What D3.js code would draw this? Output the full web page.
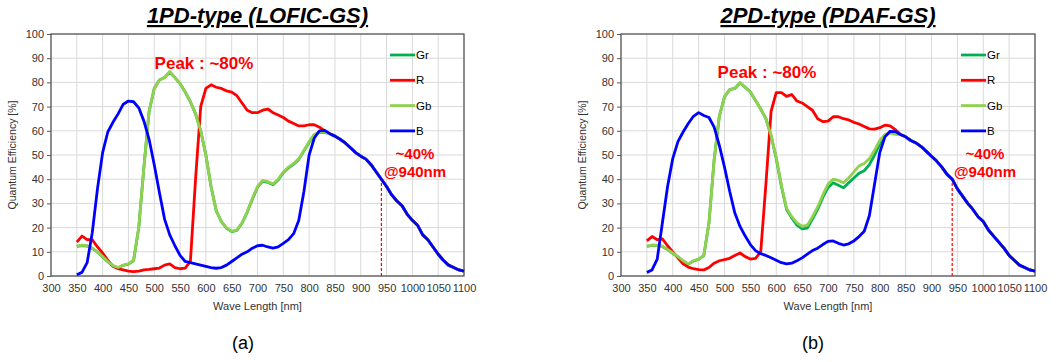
<!DOCTYPE html>
<html>
<head>
<meta charset="utf-8">
<script src="https://cdn.jsdelivr.net/npm/d3@7"></script>
<style>
  body { margin: 0; background: #fff; }
  svg { display: block; font-family: Arial, 'Liberation Sans', sans-serif; }
</style>
</head>
<body>
<svg id="chart" width="1057" height="362"></svg>
<script>
// wavelengths 350..1100 step 10
const wavelengths = d3.range(350, 1101, 10)
const xTicks = d3.range(300, 1101, 50)
const yTicks = d3.range(0, 101, 10)
const seriesNames = ['Gr', 'R', 'Gb', 'B']
const seriesColors = ['#00b050', '#ff0000', '#92d050', '#0000ff']

// ---- (a) 1PD-type ----
// shared tail 840..1100 where curves merge
const tailA = [58.8, 57.8, 56.5, 55, 53, 51, 49.5, 48.3, 46, 43, 40, 37, 33.5, 31, 29, 25.5, 23, 21, 17, 15, 12, 9, 6.5, 4.5, 3.5, 2.5, 2]
const grA = [12.2, 12.6, 12.4, 11.4, 9.9, 7.9, 5.9, 4.2, 3.4, 4.4, 4.9, 6.4, 20, 45, 68, 77.5, 81, 82, 84.3, 82, 79.5, 76, 72, 67, 60, 50,
  37, 27, 22.5, 19.8, 18.3, 18.8, 21.8, 26.3, 31.7, 36.7, 39.2, 38.7, 37.7, 39.7, 42.7, 44.7, 46.2, 48.2, 51.7, 55.2, 58.3, 59.3, 59.3].concat(tailA)
const rA = [14, 16.5, 15, 15, 12, 9.5, 6.5, 4, 3, 2.5, 2, 1.8, 2, 2.5, 2.7, 3, 3.3, 4.5, 5, 3.5, 3, 3.3, 6, 40, 70, 77.5,
  79, 78, 77.5, 76.5, 76, 74.5, 71.5, 68.5, 67.5, 67.5, 68.5, 69, 67.5, 66.5, 65.5, 64, 63, 62, 62, 62.5, 62.5, 61.5, 60].concat(tailA)
const gbA = [12.3, 12.8, 12.5, 11.5, 10, 8, 6, 4.3, 3.5, 4.5, 5, 6.5, 20, 45, 68, 77.5, 81, 82, 84.5, 82, 79.5, 76, 72, 67, 60, 50,
  37, 27, 22.5, 20, 18.5, 19, 22, 26.5, 32, 37, 39.5, 39, 38, 40, 43, 45, 46.5, 48.5, 52, 55.5, 58.5, 59.5, 59.5].concat(tailA)
const bA = [0.5, 1.5, 5.5, 18, 36, 51, 59.5, 63.5, 67, 71, 72.3, 72, 69.5, 64, 56.5, 46, 34.5, 23.5, 17, 12.5, 8.5, 6, 5.5, 5, 4.5, 4,
  3.5, 3.2, 3.5, 4.5, 6, 7.5, 9, 10, 11.5, 12.5, 12.7, 12, 11.5, 12, 13.5, 15, 17.5, 23, 35, 50, 57, 60, 60.2].concat(tailA)

// ---- (b) 2PD-type ----
const tailB = [58.5, 57.5, 56, 55, 53.5, 51.5, 49.5, 47.5, 45, 42, 40, 36, 33, 30, 27.5, 24.5, 22.5, 19, 16.5, 14, 11.5, 8.5, 6.5, 4.5, 3.5, 2.5, 2]
const grB = [12.2, 12.7, 12.6, 12.2, 10.9, 9.4, 7.9, 6.2, 4.9, 6.2, 6.9, 8.4, 22, 48, 66, 74, 77, 77.5, 79.8, 78, 76, 72.5, 69, 65, 58, 48.5,
  37, 27.5, 24, 21, 19.5, 19.8, 23.5, 27.5, 32.5, 36.5, 38.5, 37.5, 36.5, 38.5, 40.5, 42.5, 43.5, 46, 50, 54.5, 58, 59.3, 58.8].concat(tailB)
const rB = [14.5, 16.3, 15, 15.3, 12.5, 10, 7.5, 5, 3.7, 3, 2.6, 2.5, 3.5, 5.3, 6.3, 6.8, 7.3, 8.5, 9.5, 8, 7, 7.3, 10, 38, 68, 75.8,
  75.8, 74.2, 75, 72.3, 71.5, 70, 68.5, 65, 63.8, 64, 65.8, 65.8, 65, 64.5, 63.5, 62.8, 61.8, 60.8, 60.7, 61.3, 62.3, 62, 60.5].concat(tailB)
const gbB = [12.3, 12.8, 12.7, 12.3, 11, 9.5, 8, 6.3, 5, 6.3, 7, 8.5, 22, 48, 66, 74, 77, 77.5, 80, 78, 76, 72.5, 69, 65, 58, 49,
  37.5, 28, 24.5, 22, 20.5, 21, 24.5, 28.5, 33.5, 38, 40, 39.5, 38.5, 40.5, 43, 45.5, 46.5, 48.5, 52, 56, 58.5, 59, 58.5].concat(tailB)
const bB = [1.5, 2.5, 7, 22, 37, 48.5, 55.5, 59.5, 63, 66, 67.5, 66.3, 65.5, 61.5, 54, 45, 35, 26, 20.5, 16.5, 13, 10.5, 9.2, 8.5, 7.5, 6.5,
  5.5, 5, 5.3, 6.3, 7.5, 9, 10.5, 11.5, 13, 14.3, 14.5, 13.5, 12.8, 13.3, 14.5, 16.3, 18.5, 25, 38, 51, 57.5, 59.8, 59.7].concat(tailB)

const charts = [
  { title: '1PD-type (LOFIC-GS)', label: '(a)', left: 51, right: 464, series: [grA, rA, gbA, bA], peakX: 204, peakY: 69, noteX: 415 },
  { title: '2PD-type (PDAF-GS)', label: '(b)', left: 621, right: 1035, series: [grB, rB, gbB, bB], peakX: 767, peakY: 78, noteX: 985 },
]

const svg = d3.select('#chart')
const plotTop = 34
const plotBottom = 276

const drawChart = (c) => {
  const x = d3.scaleLinear().domain([300, 1100]).range([c.left, c.right])
  const y = d3.scaleLinear().domain([0, 100]).range([plotBottom, plotTop])
  const cx = (c.left + c.right) / 2
  const g = svg.append('g')

  // grid
  g.append('g').selectAll('line.v').data(xTicks).enter().append('line')
    .attr('x1', (d) => x(d)).attr('x2', (d) => x(d))
    .attr('y1', plotTop).attr('y2', plotBottom)
    .attr('stroke', '#d9d9d9').attr('stroke-width', 1)
  g.append('g').selectAll('line.h').data(yTicks).enter().append('line')
    .attr('x1', c.left).attr('x2', c.right)
    .attr('y1', (d) => y(d)).attr('y2', (d) => y(d))
    .attr('stroke', '#d9d9d9').attr('stroke-width', 1)

  // axes
  const axisY = d3.axisLeft(y).tickValues(yTicks).tickSize(4).tickPadding(3).tickFormat(d3.format('d'))
  const axisX = d3.axisBottom(x).tickValues(xTicks).tickSize(0).tickPadding(8).tickFormat(d3.format('d'))
  const ay = g.append('g').attr('transform', `translate(${c.left},0)`).call(axisY)
  const ax = g.append('g').attr('transform', `translate(0,${plotBottom})`).call(axisX)
  for (const a of [ax, ay]) {
    a.select('.domain').remove()
    a.selectAll('line').attr('stroke', '#595959')
    a.selectAll('text').attr('fill', '#333').style('font-size', '11px')
      .style('font-family', 'Arial, Liberation Sans, sans-serif')
  }

  // border
  g.append('rect')
    .attr('x', c.left).attr('y', plotTop)
    .attr('width', c.right - c.left).attr('height', plotBottom - plotTop)
    .attr('fill', 'none').attr('stroke', '#4d4d4d').attr('stroke-width', 1.2)

  // 940nm marker
  g.append('line')
    .attr('x1', x(940)).attr('x2', x(940))
    .attr('y1', y(0)).attr('y2', y(40))
    .attr('stroke', '#ff0000').attr('stroke-width', 1.2).attr('stroke-dasharray', '3,2')

  // series
  const line = d3.line().x((d, i) => x(wavelengths[i])).y((d) => y(d))
  c.series.forEach((s, i) => {
    g.append('path').datum(s)
      .attr('fill', 'none')
      .attr('stroke', seriesColors[i])
      .attr('stroke-width', 2.8)
      .attr('stroke-linejoin', 'round')
      .attr('d', line)
  })

  // legend
  const lx = c.right - 74
  seriesNames.forEach((n, i) => {
    const ly = 55 + i * 25.3
    g.append('line')
      .attr('x1', lx).attr('x2', lx + 25)
      .attr('y1', ly).attr('y2', ly)
      .attr('stroke', seriesColors[i]).attr('stroke-width', 2.8)
    g.append('text').attr('x', lx + 26).attr('y', ly + 4)
      .style('font-size', '11.5px').attr('fill', '#000').text(n)
  })

  // titles and notes
  g.append('text').attr('x', cx).attr('y', 23)
    .attr('text-anchor', 'middle')
    .style('font-size', '22px').style('font-weight', 'bold').style('font-style', 'italic')
    .style('text-decoration', 'underline').attr('fill', '#000')
    .text(c.title)
  g.append('text').attr('x', c.peakX).attr('y', c.peakY)
    .attr('text-anchor', 'middle')
    .style('font-size', '17px').style('font-weight', 'bold').attr('fill', '#ff0000')
    .text('Peak : ~80%')
  g.append('text').attr('x', c.noteX).attr('y', 158.5)
    .attr('text-anchor', 'middle')
    .style('font-size', '15px').style('font-weight', 'bold').attr('fill', '#ff0000')
    .text('~40%')
  g.append('text').attr('x', c.noteX).attr('y', 176.5)
    .attr('text-anchor', 'middle')
    .style('font-size', '15px').style('font-weight', 'bold').attr('fill', '#ff0000')
    .text('@940nm')

  g.append('text').attr('x', cx).attr('y', 310)
    .attr('text-anchor', 'middle').style('font-size', '11px').attr('fill', '#333')
    .text('Wave Length [nm]')
  g.append('text')
    .attr('transform', `translate(${c.left - 35},${(plotTop + plotBottom) / 2}) rotate(-90)`)
    .attr('text-anchor', 'middle').style('font-size', '10.5px').attr('fill', '#333')
    .text('Quantum Efficiency [%]')
  g.append('text').attr('x', c.left + 192).attr('y', 349)
    .attr('text-anchor', 'middle').style('font-size', '18px').attr('fill', '#000')
    .text(c.label)
}

charts.forEach(drawChart)
</script>
</body>
</html>
